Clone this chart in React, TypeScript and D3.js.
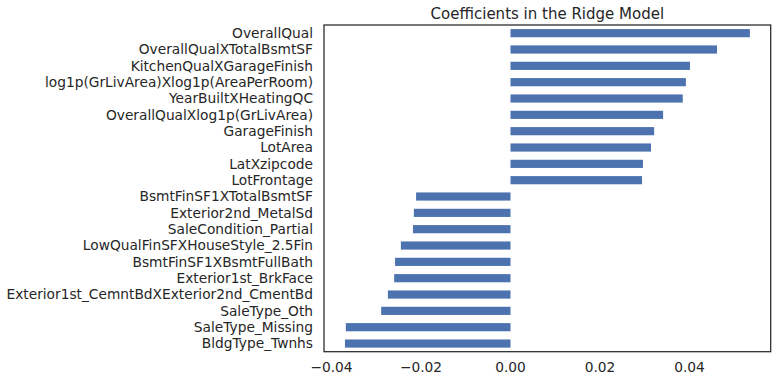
import React from "react";
import * as d3 from "d3";

const features = [
  "BldgType_Twnhs",
  "SaleType_Missing",
  "SaleType_Oth",
  "Exterior1st_CemntBdXExterior2nd_CmentBd",
  "Exterior1st_BrkFace",
  "BsmtFinSF1XBsmtFullBath",
  "LowQualFinSFXHouseStyle_2.5Fin",
  "SaleCondition_Partial",
  "Exterior2nd_MetalSd",
  "BsmtFinSF1XTotalBsmtSF",
  "LotFrontage",
  "LatXzipcode",
  "LotArea",
  "GarageFinish",
  "OverallQualXlog1p(GrLivArea)",
  "YearBuiltXHeatingQC",
  "log1p(GrLivArea)Xlog1p(AreaPerRoom)",
  "KitchenQualXGarageFinish",
  "OverallQualXTotalBsmtSF",
  "OverallQual",
];
const coefs = [
  -0.0370, -0.0368, -0.0289, -0.0274, -0.0260, -0.0258, -0.0245, -0.0218, -0.0216, -0.0211,
  0.0294, 0.0296, 0.0314, 0.0321, 0.0341, 0.0385, 0.0392, 0.0401, 0.04615, 0.0535,
];
const xTicks = [-0.04, -0.02, 0.0, 0.02, 0.04];
const title = "Coefficients in the Ridge Model";

const W = 777;
const H = 382;
const left = 324;
const right = 770.7;
const top = 25;
const bottom = 351.7;
const textColor = "#262626";
const font = "DejaVu Sans";

export default function App() {
  const x = d3.scaleLinear().domain([-0.04168, 0.05815]).range([left, right]);
  const y = d3
    .scaleBand<number>()
    .domain(d3.range(features.length).reverse())
    .range([top, bottom])
    .paddingInner(0.5)
    .paddingOuter(0.25);
  return (
    <svg
      width={W}
      height={H}
      style={{ position: "absolute", left: 0, top: 0, background: "#fff" }}
      fontFamily={font}
    >
      <text x={(left + right) / 2} y={19} textAnchor="middle" fontSize={15} fill={textColor}>
        {title}
      </text>
      {coefs.map((v, i) => (
        <rect
          key={i}
          x={Math.min(x(0), x(v))}
          width={Math.abs(x(v) - x(0))}
          y={y(i)}
          height={y.bandwidth()}
          fill="#4c72b0"
        />
      ))}
      {features.map((f, i) => (
        <text
          key={f}
          x={left - 11}
          y={(y(i) as number) + y.bandwidth() / 2}
          dy="0.35em"
          textAnchor="end"
          fontSize={13.75}
          fill={textColor}
        >
          {f}
        </text>
      ))}
      {xTicks.map((t) => (
        <text
          key={t}
          x={x(t)}
          y={bottom + 15}
          dy="0.35em"
          textAnchor="middle"
          fontSize={13.75}
          fill={textColor}
        >
          {t < 0 ? "\u2212" + Math.abs(t).toFixed(2) : t.toFixed(2)}
        </text>
      ))}
      <rect
        x={left}
        y={top}
        width={right - left}
        height={bottom - top}
        fill="none"
        stroke={textColor}
        strokeWidth={1.25}
      />
    </svg>
  );
}
